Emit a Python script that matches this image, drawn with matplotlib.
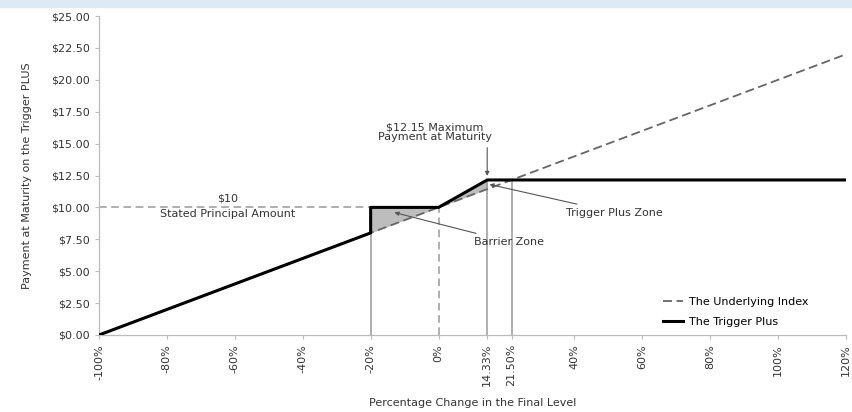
import matplotlib
matplotlib.use('Agg')
import matplotlib.pyplot as plt
from matplotlib.patches import Rectangle
import numpy as np

# Data
index_x = [-100, 120]
index_y = [0.0, 22.0]
plus_x = [-100, -20, -20, 0, 14.33, 120]
plus_y = [0.0, 8.0, 10.0, 10.0, 12.15, 12.15]
barrier_x = [-20, 0]
trigger_x = [0, 14.33]
xticks = [-100, -80, -60, -40, -20, 0, 14.33, 21.50, 40, 60, 80, 100, 120]
xtick_labels = ['-100%', '-80%', '-60%', '-40%', '-20%', '0%', '14.33%', '21.50%',
                '40%', '60%', '80%', '100%', '120%']
yticks = np.arange(0, 25.01, 2.5)


def index_at(x):
    return np.interp(x, index_x, index_y)


def plus_at(x):
    return np.interp(x, plus_x[2:], plus_y[2:])


plt.rcParams['font.family'] = 'DejaVu Sans'
fig = plt.figure(figsize=(8.52, 4.12), dpi=100)
fig.patches.append(Rectangle((0, 1 - 7 / 412), 1, 7 / 412, transform=fig.transFigure,
                             color='#dde9f5', zorder=0))
ax = fig.add_axes([99 / 852, 1 - 335 / 412, 747 / 852, 319 / 412])

# shaded zones
bx = np.linspace(barrier_x[0], barrier_x[1], 50)
ax.fill_between(bx, index_at(bx), 10, color='#bdbdbd', zorder=1, lw=0)
tx = np.linspace(trigger_x[0], trigger_x[1], 50)
ax.fill_between(tx, index_at(tx), plus_at(tx), color='#bdbdbd', zorder=1, lw=0)

# reference lines
ax.plot([-100, -20], [10, 10], color='#999999', ls=(0, (5, 3)), lw=1.1, zorder=2)
ax.plot([0, 0], [0, 10], color='#999999', ls=(0, (5, 3)), lw=1.1, zorder=2)
ax.plot([-20, -20], [0, 8], color='#999999', lw=1.1, zorder=2)
ax.plot([14.33, 14.33], [0, 12.15], color='#999999', lw=1.1, zorder=2)
ax.plot([21.5, 21.5], [0, 12.15], color='#999999', lw=1.1, zorder=2)

ax.plot(index_x, index_y, color='#666666', ls=(0, (5, 2.5)), lw=1.3, zorder=3,
        label='The Underlying Index')
ax.plot(plus_x, plus_y, color='black', lw=2.2, zorder=4, label='The Trigger Plus')

# annotations
ax.text(-62, 10.3, '$10', ha='center', va='bottom', fontsize=8, color='#333333')
ax.text(-62, 9.9, 'Stated Principal Amount', ha='center', va='top', fontsize=8,
        color='#333333')
ax.text(-1, 16.25, '$12.15 Maximum', ha='center', va='center', fontsize=8,
        color='#333333')
ax.text(-1, 15.5, 'Payment at Maturity', ha='center', va='center', fontsize=8,
        color='#333333')
ax.annotate('', xy=(14.33, 12.25), xytext=(14.33, 14.9),
            arrowprops=dict(arrowstyle='-|>', color='#555555', lw=0.8,
                            mutation_scale=6))
ax.annotate('Trigger Plus Zone', xy=(15, 11.8), xytext=(37.5, 9.6), fontsize=8,
            color='#333333', va='center', ha='left',
            arrowprops=dict(arrowstyle='-|>', color='#555555', lw=0.8,
                            mutation_scale=6, shrinkA=2, shrinkB=0))
ax.annotate('Barrier Zone', xy=(-13, 9.6), xytext=(10.5, 7.3), fontsize=8,
            color='#333333', va='center', ha='left',
            arrowprops=dict(arrowstyle='-|>', color='#555555', lw=0.8,
                            mutation_scale=6, shrinkA=2, shrinkB=0))

ax.set_xlim(-100, 120)
ax.set_ylim(0, 25)
ax.set_xticks(xticks)
ax.set_xticklabels(xtick_labels, rotation=90, fontsize=8, color='#333333')
ax.set_yticks(yticks)
ax.set_yticklabels(['$%.2f' % v for v in yticks], fontsize=8, color='#333333')
ax.tick_params(length=3, color='#bbbbbb', width=0.8)
for side in ['top', 'right']:
    ax.spines[side].set_visible(False)
for side in ['left', 'bottom']:
    ax.spines[side].set_color('#bbbbbb')
    ax.spines[side].set_linewidth(0.9)

ax.set_xlabel('Percentage Change in the Final Level', fontsize=8, color='#333333',
              labelpad=8)
ax.set_ylabel('Payment at Maturity on the Trigger PLUS', fontsize=8, color='#333333',
              labelpad=14)

ax.legend(loc='lower right', frameon=False, fontsize=8, handlelength=1.8,
          handletextpad=0.5, borderaxespad=0.3, labelspacing=0.9,
          bbox_to_anchor=(0.96, 0.0))

fig.savefig('out.png', dpi=100)
